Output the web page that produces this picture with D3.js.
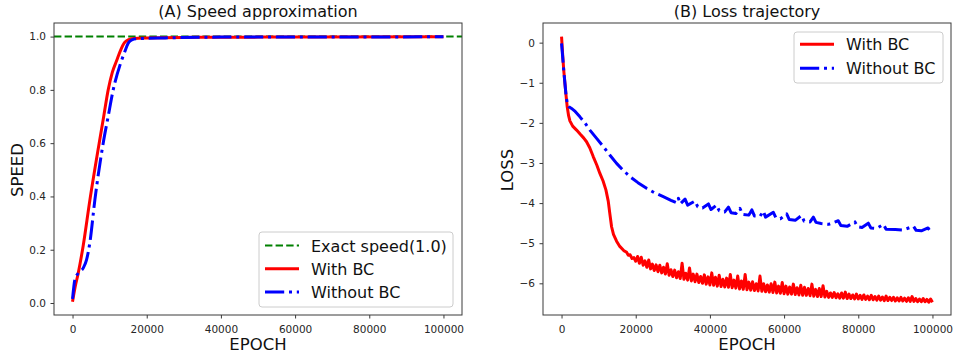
<!DOCTYPE html>
<html>
<head>
<meta charset="utf-8">
<script src="https://cdn.jsdelivr.net/npm/d3@7"></script>
<style>
  body { margin: 0; background: #fff; }
  svg text { font-family: "DejaVu Sans", sans-serif; }
</style>
</head>
<body>
<svg id="chart" width="953" height="356"></svg>
<script>
// ---- data ----
const epochTicks = [0, 20000, 40000, 60000, 80000, 100000];
const speedTicks = [0, 0.2, 0.4, 0.6, 0.8, 1.0];
const lossTicks = [-6, -5, -4, -3, -2, -1, 0];

const exactSpeed = 1.0;

const speedWithBC = [
  [0, 0.005], [700, 0.06], [1500, 0.11], [2870, 0.215], [4660, 0.385], [7180, 0.6],
  [8400, 0.7], [9610, 0.8], [10700, 0.865], [11900, 0.91], [13000, 0.95],
  [14000, 0.977], [15000, 0.988], [16500, 0.993], [20000, 0.995], [30000, 0.997],
  [50000, 0.998], [100000, 0.999]
];

const speedWithoutBC = [
  [0, 0.015], [620, 0.087], [1520, 0.112], [2870, 0.131], [3770, 0.162],
  [4660, 0.226], [6020, 0.387], [8260, 0.6], [9600, 0.7], [10960, 0.8],
  [12950, 0.9], [14000, 0.94], [15000, 0.975], [16000, 0.988], [17500, 0.992],
  [25000, 0.995], [40000, 0.998], [100000, 0.999]
];

const lossWithBC = [
  [0, 0.15], [300, -0.3], [600, -0.7], [900, -1.0], [1200, -1.3], [1530, -1.6],
  [1900, -1.82], [2250, -1.95], [3000, -2.08], [4050, -2.18], [5000, -2.28],
  [6000, -2.38], [6740, -2.47], [7600, -2.62], [8540, -2.84], [9500, -3.05],
  [10340, -3.26], [11200, -3.45], [11960, -3.67], [12590, -3.95], [13000, -4.25],
  [13490, -4.59], [14000, -4.78], [14840, -4.95], [15700, -5.08], [16640, -5.17],
  [17000, -5.20], [17500, -5.22], [18000, -5.30], [18500, -5.29], [19000, -5.38],
  [19500, -5.36], [20000, -5.45], [20500, -5.33], [21000, -5.50], [21500, -5.35],
  [22000, -5.55], [22500, -5.44], [23000, -5.60], [23500, -5.42], [24000, -5.64],
  [24500, -5.52], [25000, -5.68], [25500, -5.54], [26000, -5.71], [26500, -5.55],
  [27000, -5.74], [27500, -5.60], [28000, -5.77], [28500, -5.51], [29000, -5.80],
  [29500, -5.66], [30000, -5.83], [30500, -5.67], [31000, -5.86], [31500, -5.71],
  [32000, -5.88], [32500, -5.50], [33000, -5.90], [33500, -5.75], [34000, -5.92],
  [34500, -5.62], [35000, -5.94], [35500, -5.77], [36000, -5.96], [36500, -5.77],
  [37000, -5.98], [37500, -5.83], [38000, -6.00], [38500, -5.79], [39000, -6.02],
  [39500, -5.84], [40000, -6.04], [40500, -5.74], [41000, -6.05], [41500, -5.85],
  [42000, -6.07], [42500, -5.80], [43000, -6.08], [43500, -5.90], [44000, -6.09],
  [44500, -5.87], [45000, -6.10], [45500, -5.78], [46000, -6.11], [46500, -5.92],
  [47000, -6.12], [47500, -5.82], [48000, -6.14], [48500, -5.94], [49000, -6.15],
  [49500, -5.78], [50000, -6.16], [50500, -5.97], [51000, -6.17], [51500, -5.96],
  [52000, -6.18], [52500, -6.01], [53000, -6.19], [53500, -5.82], [54000, -6.20],
  [54500, -6.01], [55000, -6.21], [55500, -6.04], [56000, -6.22], [56500, -6.01],
  [57000, -6.23], [57500, -5.97], [58000, -6.24], [58500, -6.07], [59000, -6.25],
  [59500, -5.98], [60000, -6.26], [60500, -6.07], [61000, -6.27], [61500, -6.09],
  [62000, -6.27], [62500, -6.02], [63000, -6.28], [63500, -6.11], [64000, -6.29],
  [64500, -6.05], [65000, -6.30], [65500, -6.10], [66000, -6.30], [66500, -6.13],
  [67000, -6.31], [67500, -6.02], [68000, -6.32], [68500, -6.15], [69000, -6.33],
  [69500, -6.13], [70000, -6.33], [70500, -6.06], [71000, -6.34], [71500, -6.20],
  [72000, -6.35], [72500, -6.24], [73000, -6.35], [73500, -6.23], [74000, -6.36],
  [74500, -6.26], [75000, -6.37], [75500, -6.24], [76000, -6.37], [76500, -6.22],
  [77000, -6.38], [77500, -6.27], [78000, -6.38], [78500, -6.29], [79000, -6.39],
  [79500, -6.27], [80000, -6.39], [80500, -6.30], [81000, -6.40], [81500, -6.29],
  [82000, -6.40], [82500, -6.32], [83000, -6.41], [83500, -6.30], [84000, -6.41],
  [84500, -6.33], [85000, -6.42], [85500, -6.32], [86000, -6.42], [86500, -6.34],
  [87000, -6.43], [87500, -6.32], [88000, -6.43], [88500, -6.35], [89000, -6.43],
  [89500, -6.35], [90000, -6.44], [90500, -6.36], [91000, -6.44], [91500, -6.35],
  [92000, -6.44], [92500, -6.37], [93000, -6.45], [93500, -6.36], [94000, -6.45],
  [94500, -6.33], [95000, -6.45], [95500, -6.38], [96000, -6.46], [96500, -6.39],
  [97000, -6.46], [97500, -6.38], [98000, -6.46], [98500, -6.40], [99000, -6.47],
  [99500, -6.39], [100000, -6.47]
];

const lossWithoutBC = [
  [0, -0.02], [300, -0.35], [600, -0.7], [900, -1.0], [1200, -1.3], [1600, -1.55],
  [2000, -1.6], [2700, -1.64], [3500, -1.7], [4950, -1.85], [6300, -2.0],
  [7640, -2.18], [9400, -2.38], [11240, -2.59], [13000, -2.8], [14840, -3.01],
  [16600, -3.18], [18440, -3.34], [20600, -3.49], [22930, -3.63], [25000, -3.74],
  [27430, -3.84], [29500, -3.93], [31000, -3.99], [31500, -3.88], [32000, -4.02],
  [33300, -3.90], [34000, -4.05], [36000, -3.95], [36700, -4.09], [38000, -4.12],
  [39600, -4.02], [40300, -4.16], [41800, -4.05], [42500, -4.19], [44000, -4.22],
  [45000, -4.10], [45700, -4.24], [47000, -4.26], [48100, -4.13], [48800, -4.28],
  [50500, -4.30], [51300, -4.17], [52000, -4.32], [53500, -4.33], [54400, -4.20],
  [55000, -4.35], [57100, -4.23], [57800, -4.37], [59000, -4.39], [60700, -4.27],
  [61400, -4.41], [63000, -4.43], [64700, -4.31], [65400, -4.45], [67000, -4.47],
  [67900, -4.35], [68600, -4.48], [70000, -4.51], [72000, -4.53], [74600, -4.44],
  [75300, -4.56], [77000, -4.58], [79100, -4.47], [79800, -4.59], [81000, -4.61],
  [82700, -4.50], [83400, -4.62], [85000, -4.63], [86800, -4.53], [87500, -4.65],
  [90000, -4.66], [92000, -4.67], [94900, -4.58], [95600, -4.68], [97000, -4.69],
  [98800, -4.62], [99400, -4.70], [100000, -4.70]
];

// ---- layout ----
const svg = d3.select("#chart");
const plotTop = 23, plotBottom = 315;

function drawPanel(o) {
  const x = d3.scaleLinear().domain([-5000, 105000]).range([o.left, o.right]);
  const y = d3.scaleLinear().domain(o.yDomain).range([plotBottom, plotTop]);
  const g = svg.append("g");

  o.series.forEach(s => {
    const line = d3.line()
      .x(d => x(d[0]))
      .y(d => y(d[1]))
      .curve(s.curve || d3.curveLinear);
    g.append("path")
      .datum(s.data)
      .attr("d", line)
      .attr("fill", "none")
      .attr("stroke", s.color)
      .attr("stroke-width", s.width)
      .attr("stroke-dasharray", s.dash || null)
      .attr("stroke-linejoin", "round");
  });

  // frame
  g.append("rect")
    .attr("x", o.left).attr("y", plotTop)
    .attr("width", o.right - o.left).attr("height", plotBottom - plotTop)
    .attr("fill", "none").attr("stroke", "#3a3a3a").attr("stroke-width", 1);

  const xAxis = g.append("g")
    .attr("transform", `translate(0,${plotBottom})`)
    .call(d3.axisBottom(x).tickValues(epochTicks).tickFormat(d3.format("d"))
      .tickSize(3.5).tickPadding(7));
  const yAxis = g.append("g")
    .attr("transform", `translate(${o.left},0)`)
    .call(d3.axisLeft(y).tickValues(o.yTicks).tickFormat(o.yFormat)
      .tickSize(3.5).tickPadding(4.5));
  [xAxis, yAxis].forEach(a => {
    a.select(".domain").remove();
    a.selectAll("line").attr("stroke", "#3a3a3a");
    a.selectAll("text").attr("fill", "#262626").style("font-size", "10.5px")
      .style("font-family", "'DejaVu Sans', sans-serif");
  });

  g.append("text")
    .attr("x", (o.left + o.right) / 2).attr("y", 17)
    .attr("text-anchor", "middle").style("font-size", "16px").attr("fill", "#111")
    .text(o.title);
  g.append("text")
    .attr("x", (o.left + o.right) / 2).attr("y", 350)
    .attr("text-anchor", "middle").style("font-size", "16.5px").attr("fill", "#111")
    .text("EPOCH");
  g.append("text")
    .attr("transform", `translate(${o.yLabelX},170) rotate(-90)`)
    .attr("text-anchor", "middle").style("font-size", "16.5px").attr("fill", "#111")
    .text(o.yLabel);

  // legend
  const L = o.legend;
  const lg = g.append("g");
  lg.append("rect")
    .attr("x", L.x).attr("y", L.y).attr("width", L.w).attr("height", L.h)
    .attr("rx", 3).attr("fill", "#fff").attr("fill-opacity", 0.8)
    .attr("stroke", "#cccccc").attr("stroke-width", 1);
  L.items.forEach((s, i) => {
    const cy = L.firstRow + i * L.rowGap;
    lg.append("line")
      .attr("x1", L.x + 6).attr("x2", L.x + 40)
      .attr("y1", cy).attr("y2", cy)
      .attr("stroke", s.color).attr("stroke-width", s.width)
      .attr("stroke-dasharray", s.dash || null);
    lg.append("text")
      .attr("x", L.x + 52).attr("y", cy + 6)
      .style("font-size", "16px").attr("fill", "#111")
      .text(s.label);
  });
}

const dashDot = "19.2,4.8,3,4.8";

const speedSeries = [
  { label: "Exact speed(1.0)", color: "#008000", width: 2, dash: "7.4,3.2",
    data: [[-5000, exactSpeed], [105000, exactSpeed]] },
  { label: "With BC", color: "#ff0000", width: 3, curve: d3.curveMonotoneX, data: speedWithBC },
  { label: "Without BC", color: "#0000ff", width: 3, dash: dashDot, curve: d3.curveMonotoneX,
    data: speedWithoutBC }
];

const lossSeries = [
  { label: "With BC", color: "#ff0000", width: 3, data: lossWithBC },
  { label: "Without BC", color: "#0000ff", width: 3, dash: dashDot, data: lossWithoutBC }
];

drawPanel({
  left: 54, right: 462,
  yDomain: [-0.045, 1.051], yTicks: speedTicks, yFormat: d3.format(".1f"),
  title: "(A) Speed approximation", yLabel: "SPEED", yLabelX: 23,
  series: speedSeries,
  legend: { x: 259, y: 232, w: 194, h: 75, firstRow: 245.5, rowGap: 23.3, items: speedSeries }
});

drawPanel({
  left: 543, right: 951,
  yDomain: [-6.79, 0.49], yTicks: lossTicks, yFormat: d3.format("d"),
  title: "(B) Loss trajectory", yLabel: "LOSS", yLabelX: 513,
  series: lossSeries,
  legend: { x: 794, y: 32, w: 149, h: 51, firstRow: 44.3, rowGap: 24, items: lossSeries }
});
</script>
</body>
</html>
